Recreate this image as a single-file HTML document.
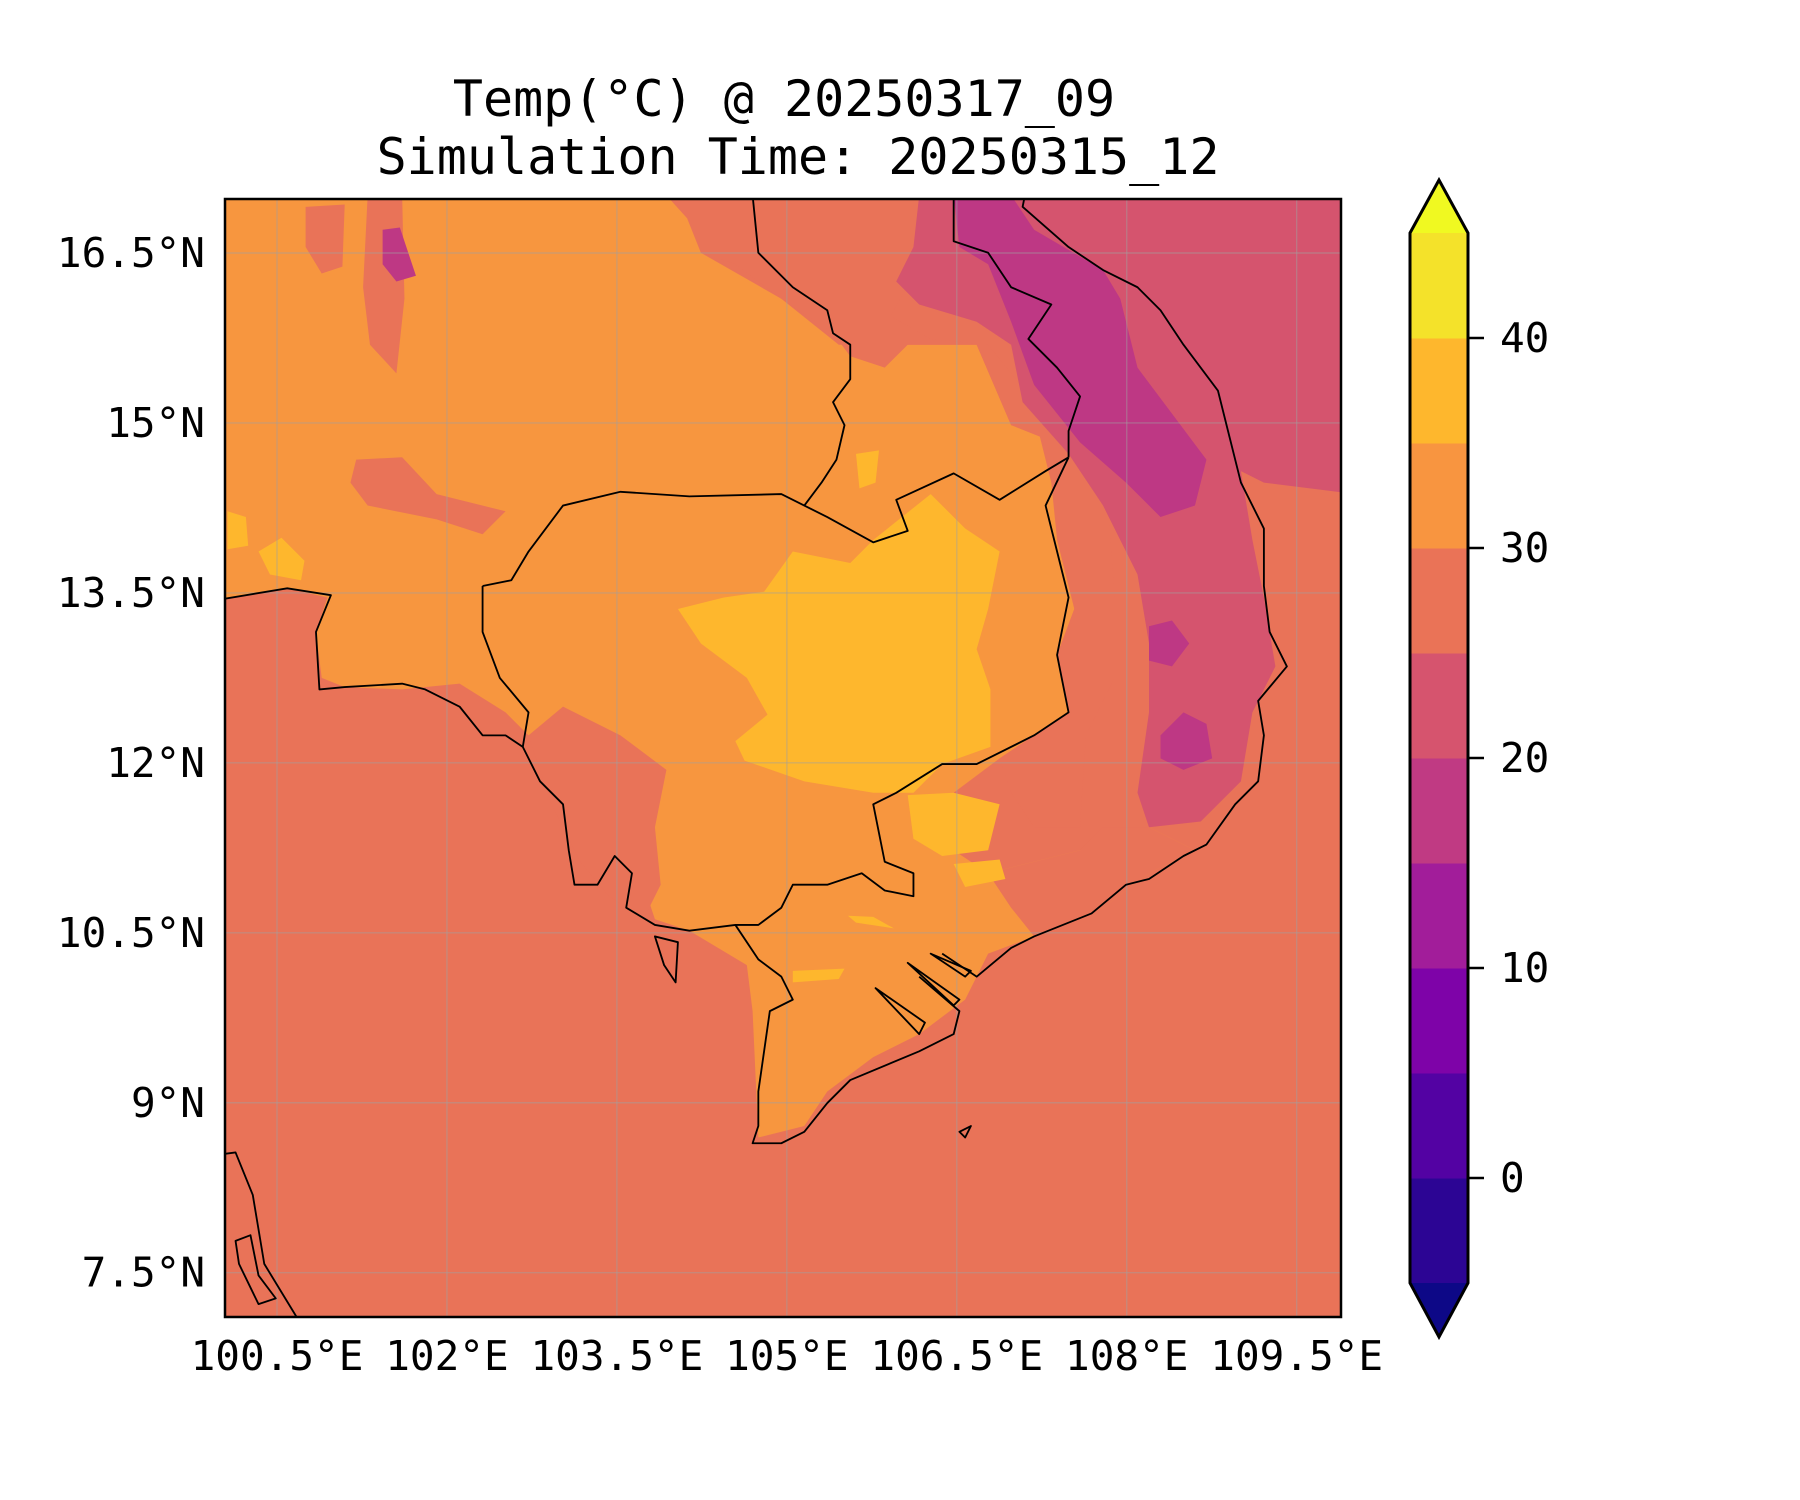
<!DOCTYPE html>
<html><head><meta charset="utf-8"><style>
body{margin:0;background:#fff;}
svg{display:block;font-family:"DejaVu Sans Mono","Liberation Mono",monospace;}
</style></head><body>
<svg id="fig" width="1800" height="1500" viewBox="0 0 1800 1500">
<rect width="1800" height="1500" fill="#fff"/>
<text x="784" y="116" font-size="50" text-anchor="middle">Temp(°C) @ 20250317_09</text>
<text x="798" y="174" font-size="50" text-anchor="middle">Simulation Time: 20250315_12</text>
<defs><clipPath id="mc"><rect x="225" y="199" width="1116" height="1118"/></clipPath></defs>
<g clip-path="url(#mc)">
<g transform="scale(1.149)">
<rect x="190" y="170" width="990" height="990" fill="#e97358"/>
<path fill="#f7963f" d="M190,170 L600,170 L610,220 L680,260 L730,300 L850,300 L880,370 L920,380 L915,420 L930,480 L935,530 L920,570 L930,620 L900,640 L870,660 L830,690 L800,730 L830,740 L860,760 L940,740 L1000,720 L1040,740 L1000,760 L960,790 L900,815 L860,830 L840,870 L800,900 L760,920 L720,950 L700,980 L660,990 L655,880 L650,840 L600,810 L570,800 L560,770 L540,745 L520,720 L500,700 L480,660 L460,640 L440,620 L400,595 L350,600 L300,598 L280,590 L275,550 L285,520 L250,512 L190,522 Z"/>
<g fill="#e97358">
<path d="M460,640 L490,615 L540,640 L580,670 L570,720 L575,770 L560,800 L530,780 L505,750 L480,700 Z"/>
<path d="M320,170 L350,170 L352,260 L345,325 L322,300 L316,250 Z"/>
<path d="M266,180 L300,178 L298,232 L280,238 L266,215 Z"/>
<path d="M310,400 L350,398 L380,430 L440,445 L420,465 L380,452 L320,440 L305,420 Z"/>
<path d="M580,170 L820,170 L800,230 L775,275 L810,295 L860,300 L900,350 L935,395 L965,445 L970,520 L970,590 L945,640 L940,720 L900,720 L880,690 L870,660 L900,640 L930,620 L920,570 L935,530 L920,470 L915,420 L905,380 L880,370 L850,300 L790,300 L770,320 L740,310 L725,290 L680,260 L640,230 L610,220 L598,190 Z"/>
<path d="M860,760 L940,740 L960,720 L1000,720 L1040,740 L1000,760 L960,790 L900,815 L880,790 Z"/>
</g>
<path fill="#d5546e" d="M800,170 L1180,170 L1180,430 L1100,420 L1080,410 L1090,470 L1100,520 L1110,580 L1090,620 L1080,680 L1045,715 L1000,720 L990,690 L1000,620 L1000,560 L990,500 L960,440 L930,395 L890,350 L880,300 L850,280 L800,265 L780,245 L795,215 Z"/>
<g fill="#be3884">
<path d="M830,170 L880,170 L900,200 L960,235 L975,260 L990,320 L1050,400 L1040,440 L1010,450 L980,420 L940,385 L900,335 L880,280 L860,230 L835,215 Z"/>
<path d="M1010,640 L1030,620 L1050,630 L1055,660 L1030,670 L1010,660 Z"/>
<path d="M1000,545 L1020,540 L1035,560 L1020,580 L1000,575 Z"/>
<path d="M333,200 L348,198 L362,240 L345,245 L333,230 Z"/>
</g>
<g fill="#feb72d">
<path d="M590,530 L630,520 L665,515 L690,480 L740,490 L760,470 L810,430 L840,460 L870,480 L860,530 L850,565 L862,600 L862,650 L820,665 L795,690 L760,690 L700,680 L648,662 L640,645 L668,622 L650,590 L610,560 Z"/>
<path d="M790,692 L830,690 L870,700 L860,740 L820,745 L795,730 Z"/>
<path d="M830,752 L870,748 L875,765 L840,772 Z"/>
<path d="M198,445 L214,450 L216,475 L198,478 Z"/>
<path d="M225,480 L245,468 L265,488 L262,505 L235,500 Z"/>
<path d="M745,395 L765,392 L762,420 L748,425 Z"/>
<path d="M690,845 L735,843 L730,852 L690,855 Z"/>
<path d="M738,797 L760,798 L778,808 L745,803 Z"/>
</g>
<g fill="none" stroke="rgba(160,160,160,0.45)" stroke-width="1.2" id="grid"></g>
<g fill="none" stroke="#000" stroke-width="1.6" stroke-linejoin="round">
<path d="M190,522 L250,512 L288,518 L275,550 L278,600 L300,598 L350,595 L370,600 L400,615 L420,640 L440,640 L455,650 L470,680 L490,700 L495,740 L500,770 L520,770 L535,745 L550,760 L545,790 L570,805 L600,810 L640,805 L660,835 L680,850 L690,870 L670,880 L660,950 L660,980 L655,995 L680,995 L700,985 L720,960 L740,940 L800,915 L830,900 L835,880 L800,850 M820,830 L850,850 L880,825 L900,815 L950,795 L980,770 L1000,765 L1030,745 L1050,735 L1075,700 L1095,680 L1100,640 L1095,610 L1120,580 L1105,550 L1100,510 L1100,460 L1080,420 L1070,380 L1060,340 L1030,300 L1010,270 L990,250 L960,235 L930,215 L890,180 L892,170"/>
<path d="M420,510 L445,505 L460,480 L490,440 L540,428 L600,432 L680,430 L700,440 L720,450 L760,472 L790,462 L780,435 L830,412 L870,435 L910,410 L930,398"/>
<path d="M930,398 L910,440 L930,520 L920,570 L930,620 L900,640 L850,665 L820,665 L780,690 L760,700 L770,750 L795,760 L795,780 L770,775 L750,760 L720,770 L690,770 L680,790 L660,805 L640,805"/>
<path d="M420,510 L420,550 L435,590 L460,620 L455,650"/>
<path d="M655,170 L660,220 L690,250 L720,270 L725,290 L740,300 L740,330 L725,350 L735,370 L728,400 L715,420 L700,440"/>
<path d="M830,170 L830,210 L860,220 L880,250 L915,265 L895,295 L920,320 L940,345 L930,375 L930,398"/>
<path d="M762,860 L800,900 L805,890 Z M790,838 L830,875 L835,870 Z M810,830 L840,850 L845,845 Z M570,815 L590,820 L588,855 L578,840 Z M190,1005 L205,1003 L220,1040 L230,1100 L258,1146 M205,1080 L218,1075 L225,1110 L240,1130 L225,1135 L208,1100 Z M835,985 L845,980 L840,990 Z"/>
</g>
</g>
</g>
<rect x="225" y="199" width="1116" height="1118" fill="none" stroke="#000" stroke-width="2.5"/>
<g id="axes" font-size="41"></g>
<g id="cbar"></g>
<script>
var lonTicks = [100.5, 102, 103.5, 105, 106.5, 108, 109.5];
var lonLabels = ["100.5°E","102°E","103.5°E","105°E","106.5°E","108°E","109.5°E"];
var latTicks = [7.5, 9, 10.5, 12, 13.5, 15, 16.5];
var latLabels = ["7.5°N","9°N","10.5°N","12°N","13.5°N","15°N","16.5°N"];
var cbLevels = [-5, 0, 5, 10, 15, 20, 25, 30, 35, 40, 45];
var cbColors = ["#2c0594","#5302a3","#7e03a8","#a21d9a","#c03a83","#d6546e","#ea7357","#f89540","#feb72d","#f4e22a"];
var cbUnder = "#0d0887", cbOver = "#f0f921";
var cbTicks = [0, 10, 20, 30, 40];
var NS='http://www.w3.org/2000/svg';
function X(lon){return 277+(lon-100.5)*113.3;}
function Y(lat){return 253-(lat-16.5)*113.3;}
function mk(t,a,p){var e=document.createElementNS(NS,t);for(var k in a)e.setAttribute(k,a[k]);p.appendChild(e);return e;}
var grid=document.getElementById('grid'), axes=document.getElementById('axes');
lonTicks.forEach(function(v,i){
  var l=mk('line',{x1:X(v)/1.149,x2:X(v)/1.149,y1:170,y2:1160},grid);
  
  
  var t=mk('text',{x:X(v),y:1370,'text-anchor':'middle'},axes);
  t.textContent=lonLabels[i];
  
  
});
latTicks.forEach(function(v,i){
  var l=mk('line',{x1:190,x2:1180,y1:Y(v)/1.149,y2:Y(v)/1.149},grid);
  
  
  var t=mk('text',{x:205,y:Y(v)+14,'text-anchor':'end'},axes);
  t.textContent=latLabels[i];
  
  
});
var cb=document.getElementById('cbar');
var cx0=1410,cx1=1468;
function CY(v){return 1178-v*21;}
cbColors.forEach(function(c,i){
  var r=mk('rect',{x:cx0,width:cx1-cx0,y:CY(cbLevels[i+1]),height:CY(cbLevels[i])-CY(cbLevels[i+1])+0.5,fill:c},cb);
  
  
});
var cbTop=CY(cbLevels[cbLevels.length-1]), cbBot=CY(cbLevels[0]);
var cxm=(cx0+cx1)/2;
var po=mk('polygon',{points:cx0+','+cbTop+' '+cxm+','+(cbTop-53)+' '+cx1+','+cbTop,fill:cbOver},cb);


var pu=mk('polygon',{points:cx0+','+cbBot+' '+cxm+','+(cbBot+54)+' '+cx1+','+cbBot,fill:cbUnder},cb);


var ol=mk('path',{d:'M'+cx0+','+cbTop+' L'+cxm+','+(cbTop-53)+' L'+cx1+','+cbTop+' L'+cx1+','+cbBot+' L'+cxm+','+(cbBot+54)+' L'+cx0+','+cbBot+' Z',fill:'none',stroke:'#000','stroke-width':3},cb);


cbTicks.forEach(function(v){
  var l=mk('line',{x1:cx1,x2:cx1+16,y1:CY(v),y2:CY(v),stroke:'#000','stroke-width':2.5},cb);
  
  
  var t=mk('text',{x:1500,y:CY(v)+14,'font-size':41},cb);
  t.textContent=String(v);
  
  
});
</script>
</svg>
</body></html>
